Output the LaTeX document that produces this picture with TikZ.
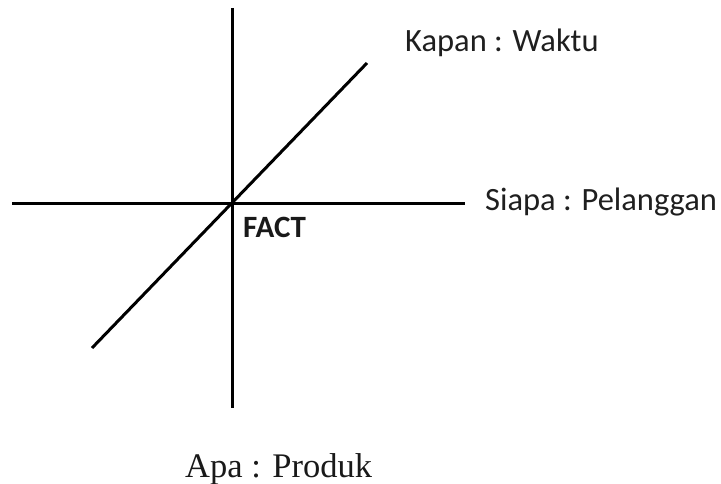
\documentclass[tikz,border=0pt]{standalone}
\usepackage{fontspec}
\setmainfont{Carlito}
\newfontfamily\serifapa{Liberation Serif}
\begin{document}
\begin{tikzpicture}[x=1pt,y=-1pt,
  axis/.style={line width=3pt,black},
  lbl/.style={inner sep=0pt,anchor=base west,text=black!88,font=\fontsize{32.5}{36}\selectfont},
  factlbl/.style={inner sep=0pt,anchor=base west,text=black!90,font=\fontsize{31}{36}\selectfont\bfseries},
  apalbl/.style={inner sep=0pt,anchor=base west,text=black!90,font=\serifapa\fontsize{34.5}{40}\selectfont}]
\useasboundingbox (0,0) rectangle (721,484);
\coordinate (vt) at (232,8);
\coordinate (vb) at (232,408);
\coordinate (hl) at (12,204);
\coordinate (hr) at (465,204);
\coordinate (dl) at (92,348);
\coordinate (dr) at (367,63);
\draw[axis] (vt) -- (vb);
\draw[axis] (hl) -- (hr);
\draw[axis] (dl) -- (dr);
\node[lbl] (kapan) at (405,52) {Kapan : Waktu};
\node[lbl] (siapa) at (485,211) {Siapa : Pelanggan};
\node[factlbl] (fact) at (243,237) {FACT};
\node[apalbl] (apa) at (185,477) {Apa : Produk};
\end{tikzpicture}
\end{document}
